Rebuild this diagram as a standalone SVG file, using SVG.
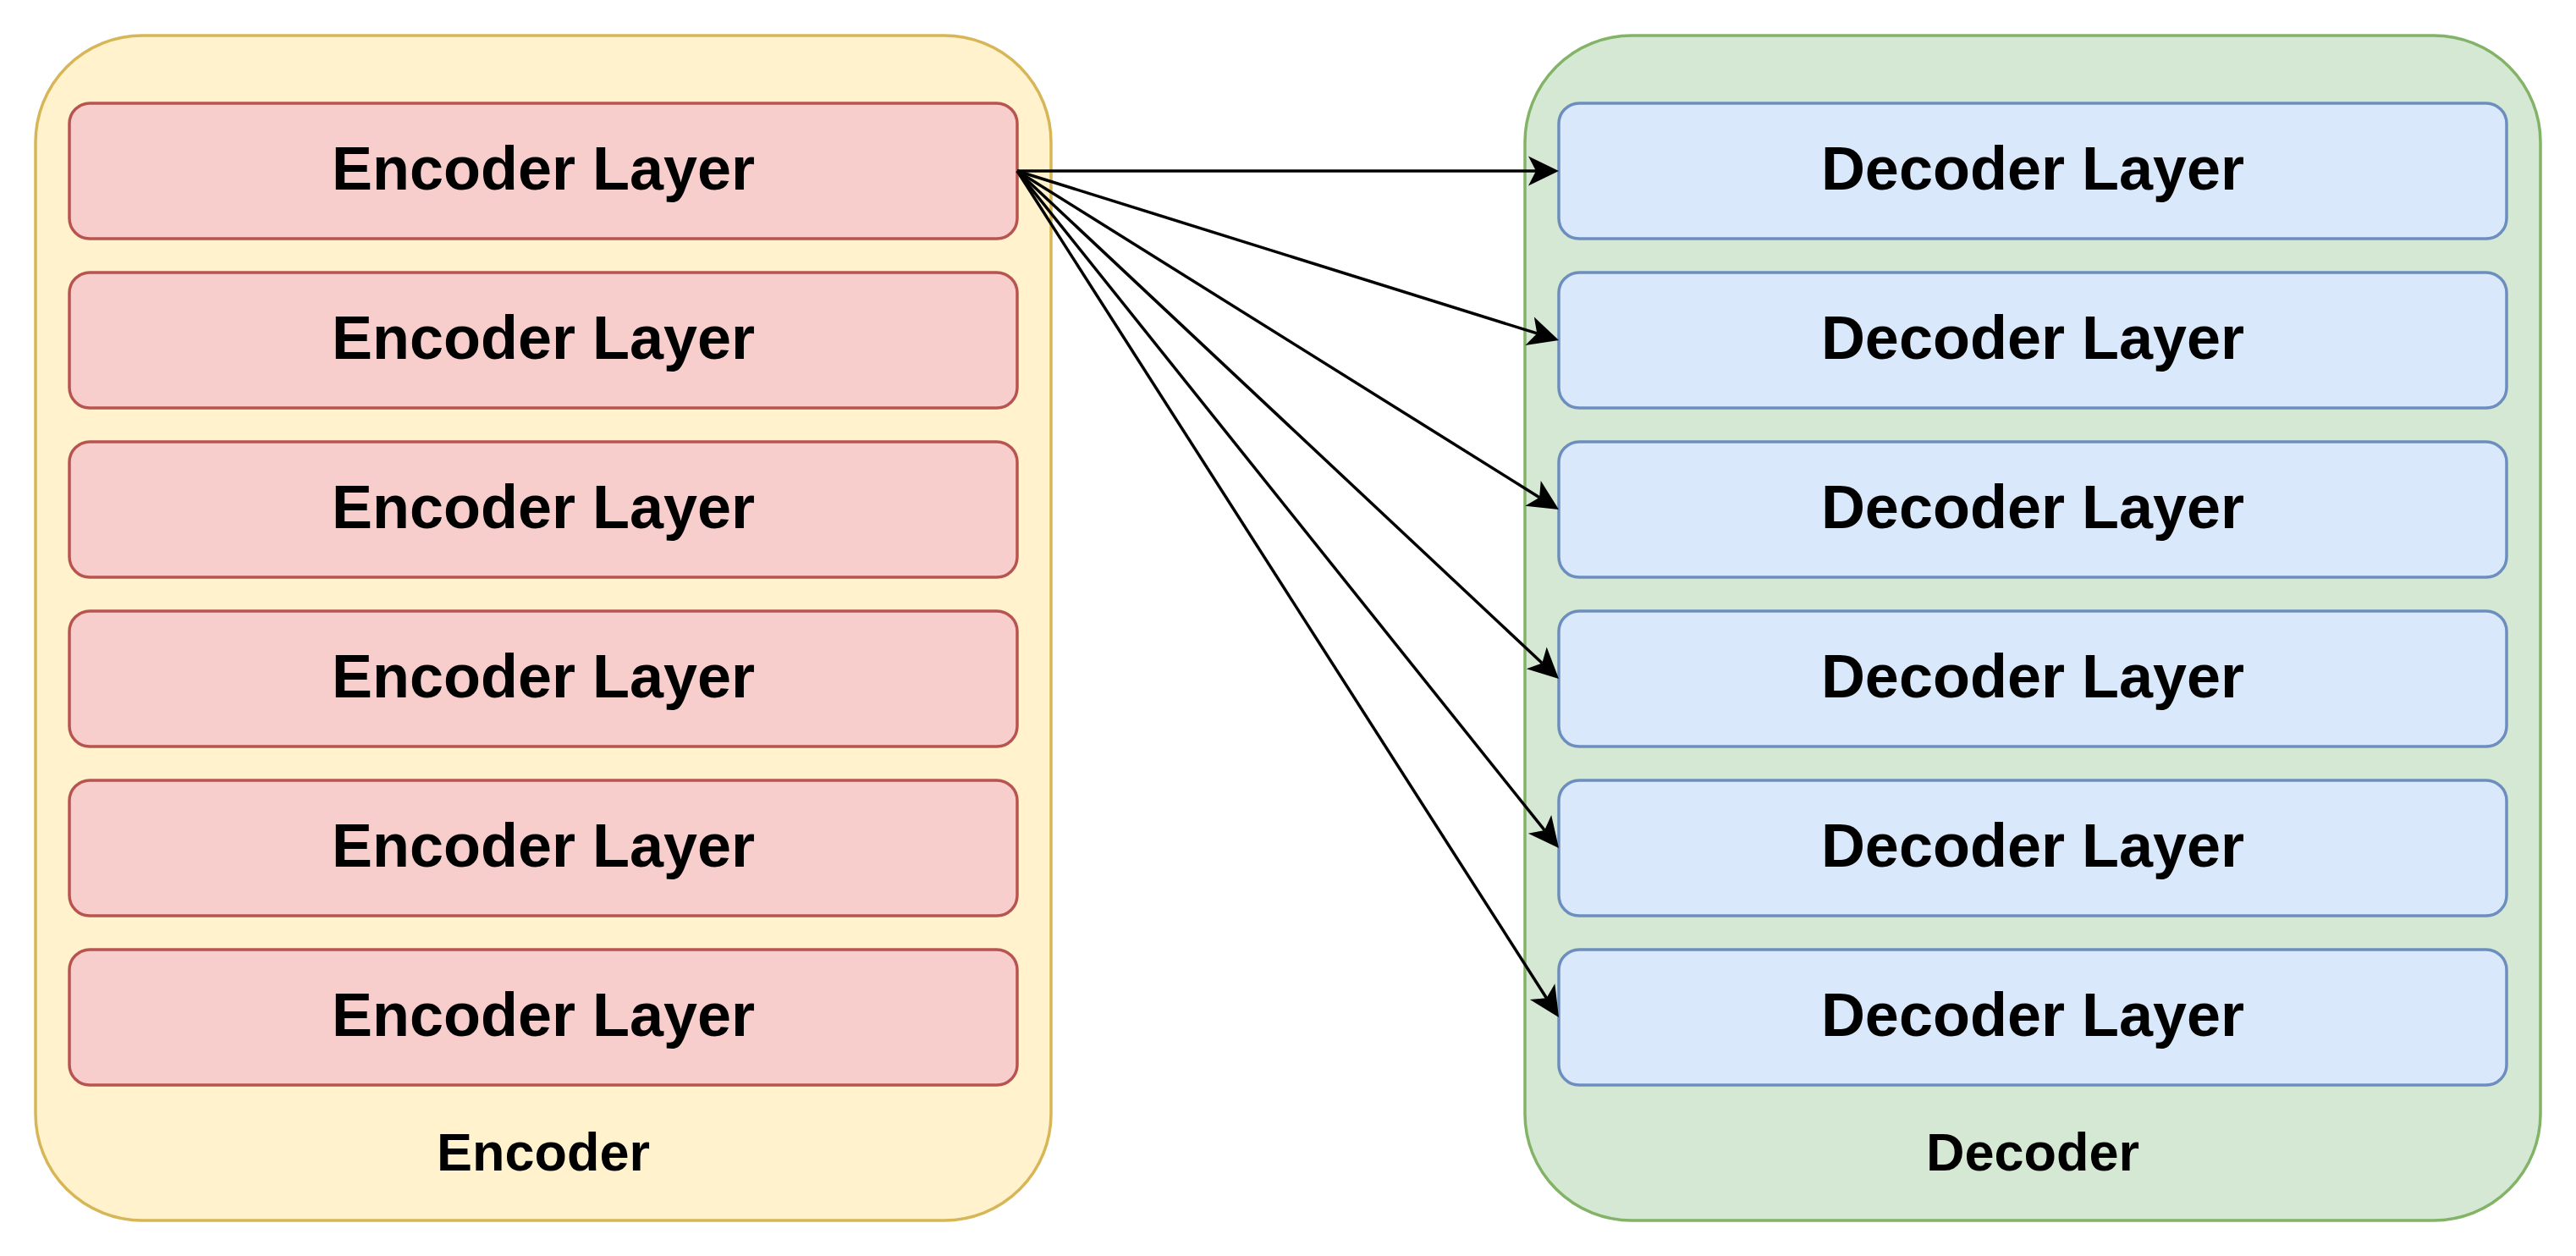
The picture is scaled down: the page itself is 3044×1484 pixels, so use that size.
<svg xmlns="http://www.w3.org/2000/svg" width="3044" height="1484" viewBox="0 0 3044 1484">
<style>
.enc{fill:#fff2cc;stroke:#d6b656;stroke-width:3.5}
.dec{fill:#d5e8d4;stroke:#82b366;stroke-width:3.5}
.el{fill:#f8cecc;stroke:#b85450;stroke-width:3.5}
.dl{fill:#dae8fc;stroke:#6c8ebf;stroke-width:3.5}
.t{font-family:"Liberation Sans",Arial,sans-serif;font-weight:bold;font-size:72px;fill:#000;text-anchor:middle}
.c{font-family:"Liberation Sans",Arial,sans-serif;font-weight:bold;font-size:63px;fill:#000;text-anchor:middle}
.e{fill:none;stroke:#000;stroke-width:3.5}
</style>
<defs>
<marker id="arr" viewBox="-40 -20 44 40" markerWidth="44" markerHeight="40" refX="-27" refY="0" orient="auto" markerUnits="userSpaceOnUse">
<path d="M0,0 L-36,-17.5 L-27,0 L-36,17.5 Z" fill="#000"/>
</marker>
</defs>
<rect width="3044" height="1484" fill="#fff"/>
<g id="encoder">
<rect class="enc" x="42" y="42" width="1200" height="1400" rx="126" ry="126"/>
<text class="c" x="642" y="1383">Encoder</text>
</g>
<g id="decoder">
<rect class="dec" x="1802" y="42" width="1200" height="1400" rx="126" ry="126"/>
<text class="c" x="2402" y="1383">Decoder</text>
</g>
<g id="enc1"><rect class="el" x="82" y="122" width="1120" height="160" rx="24" ry="24"/><text class="t" x="642" y="224">Encoder Layer</text></g>
<g id="enc2"><rect class="el" x="82" y="322" width="1120" height="160" rx="24" ry="24"/><text class="t" x="642" y="424">Encoder Layer</text></g>
<g id="enc3"><rect class="el" x="82" y="522" width="1120" height="160" rx="24" ry="24"/><text class="t" x="642" y="624">Encoder Layer</text></g>
<g id="enc4"><rect class="el" x="82" y="722" width="1120" height="160" rx="24" ry="24"/><text class="t" x="642" y="824">Encoder Layer</text></g>
<g id="enc5"><rect class="el" x="82" y="922" width="1120" height="160" rx="24" ry="24"/><text class="t" x="642" y="1024">Encoder Layer</text></g>
<g id="enc6"><rect class="el" x="82" y="1122" width="1120" height="160" rx="24" ry="24"/><text class="t" x="642" y="1224">Encoder Layer</text></g>
<g id="dec1"><rect class="dl" x="1842" y="122" width="1120" height="160" rx="24" ry="24"/><text class="t" x="2402" y="224">Decoder Layer</text></g>
<g id="dec2"><rect class="dl" x="1842" y="322" width="1120" height="160" rx="24" ry="24"/><text class="t" x="2402" y="424">Decoder Layer</text></g>
<g id="dec3"><rect class="dl" x="1842" y="522" width="1120" height="160" rx="24" ry="24"/><text class="t" x="2402" y="624">Decoder Layer</text></g>
<g id="dec4"><rect class="dl" x="1842" y="722" width="1120" height="160" rx="24" ry="24"/><text class="t" x="2402" y="824">Decoder Layer</text></g>
<g id="dec5"><rect class="dl" x="1842" y="922" width="1120" height="160" rx="24" ry="24"/><text class="t" x="2402" y="1024">Decoder Layer</text></g>
<g id="dec6"><rect class="dl" x="1842" y="1122" width="1120" height="160" rx="24" ry="24"/><text class="t" x="2402" y="1224">Decoder Layer</text></g>
<g id="connectors">
<path class="e" d="M1202,202 L1815,202" marker-end="url(#arr)"/>
<path class="e" d="M1202,202 L1816.23,393.95" marker-end="url(#arr)"/>
<path class="e" d="M1202,202 L1819.10,587.69" marker-end="url(#arr)"/>
<path class="e" d="M1202,202 L1822.30,783.53" marker-end="url(#arr)"/>
<path class="e" d="M1202,202 L1825.13,980.92" marker-end="url(#arr)"/>
<path class="e" d="M1202,202 L1827.45,1179.26" marker-end="url(#arr)"/>
</g>
</svg>
